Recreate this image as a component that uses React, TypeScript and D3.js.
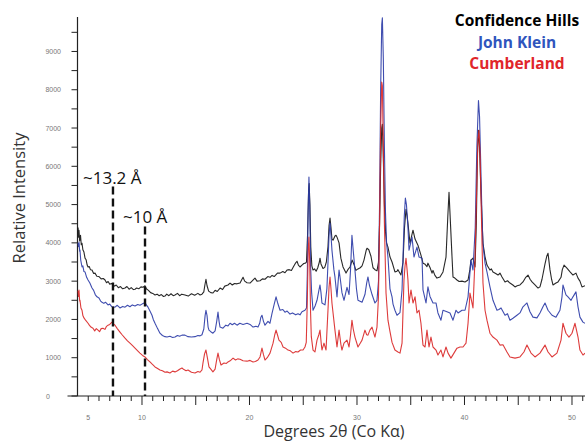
import React from 'react'
import * as d3 from 'd3'

// XRD patterns, [2θ degrees, counts]
const confidenceHills: [number, number][] = [
  [4.05, 4400], [4.1, 4150], [4.14, 4330], [4.2, 4050], [4.28, 4200], [4.35, 3950], [4.42, 3990], [4.5, 3820],
  [4.6, 3760], [4.7, 3600], [4.8, 3560], [4.9, 3420], [4.98, 3370], [5.1, 3380], [5.2, 3300], [5.35, 3290],
  [5.5, 3200], [5.63, 3210], [5.8, 3130], [6.0, 3120], [6.2, 3060], [6.4, 3070], [6.56, 3030], [6.7, 2960],
  [6.85, 2990], [7.0, 2920], [7.15, 2940], [7.3, 2900], [7.45, 2870], [7.6, 2900], [7.8, 2830], [8.0, 2860],
  [8.2, 2800], [8.42, 2820], [8.6, 2860], [8.8, 2790], [9.0, 2830], [9.2, 2780], [9.35, 2790], [9.5, 2820],
  [9.7, 2800], [9.9, 2850], [10.1, 2840], [10.28, 2880], [10.4, 2800], [10.6, 2760], [10.8, 2700], [11.0, 2680],
  [11.21, 2640], [11.4, 2660], [11.6, 2620], [11.8, 2650], [12.0, 2600], [12.14, 2610], [12.3, 2660], [12.5, 2620],
  [12.7, 2670], [12.9, 2620], [13.07, 2640], [13.3, 2680], [13.5, 2620], [13.7, 2660], [14.0, 2640], [14.3, 2610],
  [14.6, 2670], [14.9, 2630], [15.2, 2680], [15.4, 2640], [15.58, 2660], [15.75, 2720], [15.85, 2900], [15.95, 3050],
  [16.05, 2880], [16.2, 2740], [16.4, 2700], [16.6, 2690], [16.8, 2760], [17.0, 2730], [17.26, 2820], [17.5, 2780],
  [17.7, 2870], [18.0, 2900], [18.19, 2950], [18.4, 2900], [18.6, 2940], [18.84, 2930], [19.12, 2950], [19.3, 3050],
  [19.4, 3100], [19.55, 3000], [19.77, 2960], [20.05, 2950], [20.3, 3020], [20.51, 3080], [20.7, 3000], [20.98, 3010],
  [21.2, 3060], [21.44, 3050], [21.7, 3120], [21.91, 3100], [22.1, 3150], [22.3, 3120], [22.6, 3210], [22.84, 3210],
  [23.1, 3250], [23.3, 3220], [23.49, 3290], [23.7, 3300], [23.9, 3280], [24.1, 3380], [24.3, 3480], [24.42, 3520],
  [24.55, 3420], [24.7, 3370], [24.88, 3420], [25.05, 3460], [25.2, 3470], [25.3, 3500], [25.4, 4200], [25.5, 5400],
  [25.55, 5550], [25.62, 5000], [25.7, 3900], [25.8, 3400], [25.91, 3290], [26.05, 3320], [26.2, 3260], [26.35, 3350],
  [26.5, 3500], [26.56, 3600], [26.65, 3450], [26.84, 3330], [27.0, 3360], [27.15, 3500], [27.3, 3900], [27.4, 4450],
  [27.49, 4650], [27.58, 4400], [27.67, 4100], [27.77, 4070], [27.95, 4180], [28.05, 4200], [28.14, 4150], [28.33, 4000],
  [28.5, 3600], [28.7, 3370], [28.98, 3210], [29.15, 3300], [29.35, 3370], [29.55, 3550], [29.7, 3450], [29.9, 3280],
  [30.09, 3320], [30.3, 3350], [30.47, 3400], [30.65, 3550], [30.85, 3800], [30.93, 3860], [31.1, 3820], [31.3, 3650],
  [31.49, 3350], [31.67, 3300], [31.86, 3270], [32.0, 3500], [32.1, 4500], [32.2, 6000], [32.3, 7000], [32.36, 7100],
  [32.45, 6200], [32.55, 5000], [32.65, 4300], [32.75, 4000], [32.88, 3890], [33.07, 3630], [33.26, 3500], [33.53, 3240],
  [33.72, 3260], [33.81, 3300], [34.09, 3160], [34.28, 3490], [34.42, 4400], [34.56, 4880], [34.66, 4700], [34.74, 4520],
  [34.93, 3990], [35.1, 4200], [35.21, 4330], [35.4, 4100], [35.67, 3940], [35.95, 3680], [36.14, 3470], [36.3, 3450],
  [36.51, 3380], [36.6, 3470], [36.8, 3350], [36.98, 3210], [37.07, 3280], [37.25, 3150], [37.44, 3080], [37.72, 3110],
  [38.0, 3240], [38.28, 3630], [38.45, 4700], [38.56, 5320], [38.68, 4600], [38.84, 3630], [38.93, 3110], [39.1, 3080],
  [39.3, 3030], [39.5, 2990], [39.77, 3000], [40.05, 2980], [40.33, 3030], [40.5, 3300], [40.6, 3550], [40.79, 3600],
  [40.98, 3370], [41.1, 4500], [41.2, 6300], [41.3, 6940], [41.4, 6500], [41.5, 5600], [41.63, 4600], [41.72, 3990],
  [41.9, 3650], [42.09, 3420], [42.37, 3290], [42.5, 3320], [42.65, 3240], [42.9, 3200], [43.12, 3160], [43.3, 3210],
  [43.49, 3110], [43.77, 2980], [44.0, 3010], [44.23, 2950], [44.5, 2900], [44.7, 2850], [44.9, 2880], [45.16, 2900],
  [45.44, 2980], [45.7, 3100], [45.91, 3160], [46.1, 3050], [46.28, 2980], [46.56, 2900], [46.84, 2820], [47.02, 2850],
  [47.21, 3050], [47.49, 3450], [47.65, 3650], [47.77, 3730], [47.95, 3300], [48.1, 3050], [48.23, 2900], [48.51, 2950],
  [48.7, 2980], [48.98, 3100], [49.1, 3300], [49.26, 3420], [49.53, 3340], [49.8, 3250], [50.09, 3160], [50.37, 3210],
  [50.56, 3080], [50.74, 3000], [50.93, 2850], [51.21, 2880],
]

const johnKlein: [number, number][] = [
  [4.05, 4000], [4.1, 3900], [4.14, 4020], [4.2, 3780], [4.23, 3810], [4.3, 3550], [4.42, 3370], [4.5, 3400],
  [4.6, 3250], [4.7, 3240], [4.85, 3100], [4.98, 3030], [5.15, 2950], [5.35, 2820], [5.5, 2760], [5.65, 2650],
  [5.81, 2590], [6.0, 2560], [6.15, 2480], [6.28, 2450], [6.45, 2420], [6.6, 2450], [6.84, 2380], [7.0, 2400],
  [7.2, 2330], [7.49, 2320], [7.7, 2370], [7.95, 2300], [8.2, 2340], [8.42, 2320], [8.65, 2370], [8.88, 2330],
  [9.1, 2380], [9.35, 2350], [9.6, 2390], [9.81, 2370], [10.0, 2400], [10.15, 2420], [10.28, 2450], [10.4, 2380],
  [10.56, 2320], [10.74, 2220], [10.93, 2110], [11.05, 2000], [11.21, 1900], [11.45, 1760], [11.67, 1640], [11.9, 1580],
  [12.14, 1550], [12.33, 1540], [12.6, 1560], [12.85, 1530], [13.07, 1540], [13.3, 1580], [13.5, 1560], [13.72, 1590],
  [14.0, 1590], [14.28, 1550], [14.6, 1540], [14.93, 1550], [15.2, 1580], [15.4, 1570], [15.58, 1600], [15.75, 1750],
  [15.87, 2100], [15.95, 2240], [16.05, 2100], [16.15, 1800], [16.23, 1720], [16.4, 1680], [16.6, 1640], [16.8, 1700],
  [16.95, 1950], [17.07, 2190], [17.17, 1950], [17.26, 1800], [17.53, 1770], [17.8, 1850], [18.0, 1830], [18.19, 1900],
  [18.4, 1860], [18.6, 1900], [18.84, 1850], [19.1, 1900], [19.4, 1870], [19.77, 1900], [20.05, 1870], [20.33, 1800],
  [20.6, 1820], [20.79, 1800], [20.95, 1900], [21.05, 2050], [21.16, 2110], [21.3, 1950], [21.44, 1850], [21.72, 1950],
  [21.9, 1900], [22.09, 2150], [22.3, 2400], [22.47, 2590], [22.6, 2450], [22.84, 2240], [23.1, 2260], [23.3, 2190],
  [23.5, 2220], [23.77, 2140], [24.0, 2170], [24.3, 2120], [24.51, 2150], [24.7, 2120], [24.88, 2200], [25.16, 2240],
  [25.3, 2300], [25.38, 3200], [25.45, 4800], [25.53, 5720], [25.6, 5000], [25.68, 3400], [25.78, 2700], [25.91, 2240],
  [26.1, 2350], [26.28, 2500], [26.45, 2750], [26.56, 2900], [26.65, 2700], [26.74, 2430], [27.02, 2380], [27.2, 2800],
  [27.3, 3470], [27.4, 4200], [27.49, 4520], [27.58, 4200], [27.67, 3810], [27.85, 3300], [27.95, 3110], [28.14, 2590],
  [28.25, 3000], [28.33, 3290], [28.45, 3050], [28.6, 2700], [28.79, 2500], [29.07, 2840], [29.26, 2650], [29.4, 3300],
  [29.53, 4200], [29.65, 3800], [29.81, 3290], [29.95, 2800], [30.09, 2500], [30.47, 2450], [30.74, 2650], [30.9, 2950],
  [31.02, 3110], [31.15, 2900], [31.4, 2650], [31.67, 2430], [31.86, 2500], [32.0, 3000], [32.1, 5000], [32.2, 8000],
  [32.3, 9700], [32.36, 9880], [32.45, 8800], [32.55, 6500], [32.65, 4800], [32.75, 4000], [32.88, 3630], [33.07, 2800],
  [33.26, 2590], [33.35, 2400], [33.53, 2240], [33.72, 2110], [34.0, 2180], [34.19, 2770], [34.3, 3800], [34.4, 4700],
  [34.5, 5170], [34.6, 5000], [34.74, 4410], [34.84, 3810], [35.0, 4000], [35.12, 4150], [35.3, 3630], [35.58, 3890],
  [35.77, 3630], [36.05, 3600], [36.14, 2770], [36.42, 2430], [36.6, 2850], [36.79, 2600], [37.07, 2430], [37.35, 2430],
  [37.53, 2170], [37.81, 1980], [38.0, 2240], [38.37, 2200], [38.65, 2170], [38.93, 1980], [39.21, 2240], [39.4, 2170],
  [39.77, 2240], [40.05, 2240], [40.33, 2590], [40.6, 3550], [40.79, 3290], [41.0, 4400], [41.15, 6500], [41.3, 7720],
  [41.4, 7300], [41.5, 6200], [41.63, 4670], [41.72, 3950], [41.91, 3470], [42.09, 3240], [42.37, 2850], [42.65, 2500],
  [43.02, 2240], [43.2, 2260], [43.4, 2300], [43.77, 2110], [44.0, 2150], [44.23, 1980], [44.51, 2030], [44.88, 2110],
  [45.16, 2170], [45.44, 2330], [45.81, 2430], [46.09, 2200], [46.37, 2060], [46.74, 2040], [47.02, 2170], [47.3, 2330],
  [47.49, 2430], [47.77, 2240], [48.14, 2110], [48.51, 2060], [48.88, 2240], [49.07, 2590], [49.16, 2900], [49.44, 2640],
  [49.63, 2590], [49.91, 2500], [50.09, 2590], [50.37, 2720], [50.56, 2330], [50.74, 2060], [51.02, 1930], [51.21, 1900],
]

const cumberland: [number, number][] = [
  [4.05, 2750], [4.1, 2600], [4.14, 2770], [4.2, 2480], [4.23, 2500], [4.32, 2300], [4.42, 2240], [4.5, 2100],
  [4.6, 2040], [4.75, 1980], [4.98, 1900], [5.1, 1850], [5.25, 1800], [5.44, 1770], [5.6, 1700], [5.75, 1760],
  [5.91, 1720], [6.05, 1680], [6.2, 1760], [6.37, 1770], [6.55, 1740], [6.7, 1820], [6.84, 1850], [7.0, 1870],
  [7.21, 1930], [7.35, 1880], [7.49, 1850], [7.7, 1760], [7.95, 1670], [8.15, 1600], [8.42, 1510], [8.65, 1440],
  [8.88, 1380], [9.1, 1320], [9.35, 1250], [9.6, 1180], [9.81, 1120], [10.05, 1060], [10.28, 1020], [10.5, 950],
  [10.74, 890], [10.95, 830], [11.21, 760], [11.45, 720], [11.67, 680], [11.9, 660], [12.14, 620], [12.33, 630],
  [12.6, 600], [12.85, 650], [13.07, 630], [13.3, 660], [13.5, 700], [13.72, 730], [13.9, 690], [14.1, 660],
  [14.28, 680], [14.6, 620], [14.93, 600], [15.2, 640], [15.4, 620], [15.58, 680], [15.67, 860], [15.82, 1100],
  [15.95, 1200], [16.08, 1000], [16.23, 760], [16.4, 700], [16.6, 630], [16.8, 700], [16.95, 950], [17.07, 1120],
  [17.2, 950], [17.35, 810], [17.63, 860], [17.85, 850], [18.0, 890], [18.2, 920], [18.47, 990], [18.7, 940],
  [18.9, 970], [19.12, 960], [19.4, 920], [19.77, 910], [20.05, 930], [20.33, 890], [20.55, 900], [20.79, 940],
  [20.98, 1020], [21.16, 1250], [21.3, 1080], [21.44, 940], [21.65, 1000], [21.91, 1120], [22.19, 1380], [22.35, 1600],
  [22.47, 1720], [22.6, 1600], [22.74, 1460], [22.95, 1400], [23.12, 1280], [23.35, 1250], [23.58, 1200], [23.8, 1180],
  [24.05, 1120], [24.3, 1160], [24.51, 1150], [24.75, 1200], [24.98, 1200], [25.16, 1280], [25.28, 1400], [25.38, 2500],
  [25.46, 3800], [25.53, 4150], [25.6, 3500], [25.68, 2200], [25.75, 1550], [25.91, 1200], [26.09, 1150], [26.28, 1460],
  [26.45, 1600], [26.56, 1720], [26.68, 1350], [26.74, 1200], [26.93, 1380], [27.12, 1200], [27.3, 2240], [27.4, 2850],
  [27.49, 3110], [27.58, 2800], [27.67, 2430], [27.95, 1720], [28.14, 1280], [28.33, 1720], [28.5, 1350], [28.6, 1200],
  [28.79, 1380], [29.07, 1460], [29.26, 1280], [29.4, 1600], [29.53, 1980], [29.65, 1750], [29.81, 1540], [30.09, 1280],
  [30.3, 1380], [30.47, 1460], [30.74, 1720], [30.9, 1600], [31.02, 1590], [31.2, 1720], [31.4, 1800], [31.67, 1540],
  [31.86, 1800], [32.0, 2600], [32.1, 4500], [32.2, 7000], [32.3, 8200], [32.36, 8100], [32.45, 6500], [32.55, 4500],
  [32.65, 3300], [32.7, 2690], [32.88, 1980], [33.07, 1680], [33.26, 1400], [33.53, 1200], [33.81, 1150], [34.0, 1120],
  [34.19, 1380], [34.37, 3030], [34.47, 3400], [34.56, 3600], [34.66, 3300], [34.74, 3030], [34.84, 2430], [35.02, 2770],
  [35.21, 2430], [35.4, 2590], [35.58, 2170], [35.77, 2240], [35.95, 1900], [36.14, 1330], [36.33, 1280], [36.51, 1720],
  [36.7, 1280], [36.88, 1540], [37.07, 1280], [37.35, 1200], [37.53, 1070], [37.81, 1200], [38.0, 1020], [38.28, 1280],
  [38.47, 1120], [38.74, 990], [39.02, 1120], [39.3, 1250], [39.58, 1280], [39.86, 1280], [40.14, 1380], [40.33, 1900],
  [40.51, 2690], [40.79, 2300], [40.98, 3600], [41.1, 5000], [41.25, 6700], [41.35, 6940], [41.45, 6300], [41.55, 5000],
  [41.63, 4000], [41.72, 2950], [41.91, 2240], [42.09, 1980], [42.37, 1640], [42.65, 1540], [43.02, 1460], [43.3, 1330],
  [43.58, 1340], [43.95, 1150], [44.23, 1020], [44.7, 990], [45.16, 1020], [45.53, 1150], [45.81, 1330], [46.19, 1120],
  [46.56, 1020], [47.02, 1120], [47.49, 1330], [47.77, 1150], [48.14, 1020], [48.6, 1120], [48.98, 1460], [49.16, 1900],
  [49.44, 1640], [49.72, 1540], [50.0, 1640], [50.28, 1900], [50.56, 1540], [50.74, 1200], [51.02, 1070], [51.21, 1120],
]

const yTicks = [0, 1000, 2000, 3000, 4000, 5000, 6000, 7000, 8000, 9000]
const xTickLabels = [5, 10, 20, 30, 40, 50]
// d-spacing markers: [label, 2θ position, top of line in counts]
const markers: [string, number, number][] = [
  ['~13.2 Å', 7.3, 5470],
  ['~10 Å', 10.28, 4430],
]
const legend = [
  { name: 'Confidence Hills', color: '#000000' },
  { name: 'John Klein', color: '#2f55bd' },
  { name: 'Cumberland', color: '#e0262a' },
]

const W = 585
const H = 443

export default function App() {
  const x = d3.scaleLinear().domain([4, 51.21]).range([77.5, 585])
  const y = d3.scaleLinear().domain([0, 9900]).range([396, 17])

  const line = d3
    .line<[number, number]>()
    .x((d) => x(d[0]))
    .y((d) => y(d[1]))

  const minorX = d3.range(5, 52, 1)
  const minorY = d3.range(500, 9600, 1000)
  const series = [
    { data: confidenceHills, color: '#111111' },
    { data: johnKlein, color: '#2a3aa6' },
    { data: cumberland, color: '#d92626' },
  ]

  return (
    <svg
      width={W}
      height={H}
      style={{ position: 'absolute', left: 0, top: 0, background: '#fff' }}
    >
      {/* y axis */}
      <line x1={x(4)} x2={x(4)} y1={y(9900)} y2={y(0)} stroke="#222" strokeWidth={1.2} />
      {yTicks.map((t) => (
        <g key={'y' + t}>
          <line x1={x(4) - 6} x2={x(4)} y1={y(t)} y2={y(t)} stroke="#222" strokeWidth={1} />
          <text
            x={t === 0 ? 50 : 61}
            y={y(t) + 2.5}
            textAnchor="end"
            fontFamily="Liberation Sans, Arial, sans-serif"
            fontSize={7}
            fill="#777"
          >
            {t}
          </text>
        </g>
      ))}
      {minorY.map((t) => (
        <line key={'ym' + t} x1={x(4) - 6} x2={x(4)} y1={y(t)} y2={y(t)} stroke="#222" strokeWidth={1} />
      ))}

      {/* x axis */}
      <line x1={x(4) - 10} x2={W} y1={y(0)} y2={y(0)} stroke="#222" strokeWidth={1.2} />
      {minorX.map((t) => (
        <line
          key={'xm' + t}
          x1={x(t)}
          x2={x(t)}
          y1={y(0)}
          y2={y(0) + (t % 5 === 0 && t !== 5 ? 9 : 5)}
          stroke="#222"
          strokeWidth={1}
        />
      ))}
      {xTickLabels.map((t) => (
        <text
          key={'xl' + t}
          x={x(t)}
          y={420}
          textAnchor="middle"
          fontFamily="Liberation Sans, Arial, sans-serif"
          fontSize={7}
          fill="#777"
        >
          {t}
        </text>
      ))}

      {/* axis titles */}
      <text
        transform="translate(25,198) rotate(-90)"
        textAnchor="middle"
        fontFamily="Open Sans, sans-serif"
        fontSize={16.5}
        fill="#333"
      >
        Relative Intensity
      </text>
      <text
        x={334}
        y={437}
        textAnchor="middle"
        fontFamily="Open Sans, sans-serif"
        fontSize={16}
        fill="#333"
      >
        Degrees 2θ (Co Kα)
      </text>

      {/* patterns */}
      {series.map((s, i) => (
        <path
          key={i}
          d={line(s.data) ?? ''}
          fill="none"
          stroke={s.color}
          strokeWidth={1.1}
          strokeOpacity={0.9}
          strokeLinejoin="round"
        />
      ))}

      {/* d-spacing markers */}
      {markers.map(([label, pos, top]) => (
        <g key={label}>
          <line
            x1={x(pos)}
            x2={x(pos)}
            y1={y(top)}
            y2={y(0)}
            stroke="#111"
            strokeWidth={2.4}
            strokeDasharray="8 4"
          />
          <text
            x={x(pos) - (label.length > 6 ? 30 : 22)}
            y={y(top) - 3}
            fontFamily="Open Sans, sans-serif"
            fontSize={17}
            fill="#111"
          >
            {label}
          </text>
        </g>
      ))}

      {/* legend */}
      {legend.map((l, i) => (
        <text
          key={l.name}
          x={517}
          y={26 + i * 21.5}
          textAnchor="middle"
          fontFamily="Open Sans, sans-serif"
          fontWeight="bold"
          fontSize={15.5}
          fill={l.color}
        >
          {l.name}
        </text>
      ))}
    </svg>
  )
}
